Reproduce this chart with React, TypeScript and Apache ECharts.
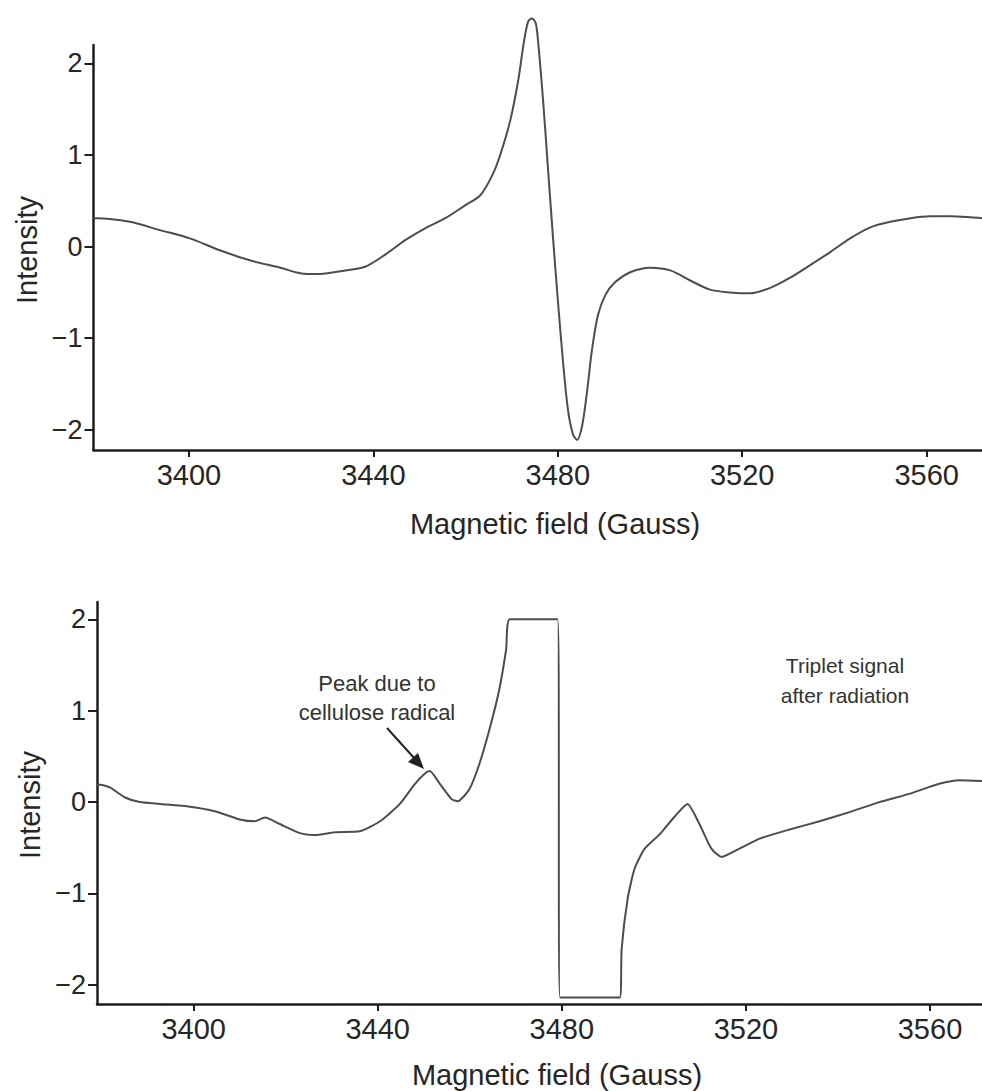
import React, { useEffect, useRef } from "react";
import * as echarts from "echarts";

// Top spectrum (before radiation): [field (G), intensity]
const topField = [3379.3, 3380, 3387.2, 3393.7, 3400.2, 3406.7, 3413.2, 3419.8, 3424.1, 3428.4, 3433.9, 3438.2, 3442.5, 3446.9, 3451.2, 3455.6, 3459.9, 3463.2, 3465.8, 3467.5, 3469.7, 3471.4, 3472.7, 3473.6, 3474.4, 3475.2, 3475.7, 3476.8, 3477.9, 3479, 3480, 3481.1, 3482.2, 3483.3, 3484.2, 3485.3, 3486.4, 3487.4, 3488.7, 3490.3, 3492.4, 3495.7, 3500, 3504.4, 3508.7, 3513, 3517.4, 3521.7, 3526.1, 3530.4, 3534.8, 3539.1, 3543.4, 3547.8, 3552.1, 3556.5, 3560.8, 3565.1, 3569.5, 3572];
const topIntensity = [0.31, 0.31, 0.27, 0.18, 0.09, -0.04, -0.15, -0.23, -0.29, -0.3, -0.26, -0.22, -0.09, 0.07, 0.2, 0.31, 0.45, 0.56, 0.78, 1.0, 1.38, 1.81, 2.25, 2.46, 2.49, 2.44, 2.25, 1.6, 0.83, 0.07, -0.58, -1.24, -1.78, -2.05, -2.11, -1.95, -1.56, -1.13, -0.75, -0.53, -0.39, -0.28, -0.23, -0.26, -0.37, -0.47, -0.5, -0.51, -0.45, -0.34, -0.2, -0.06, 0.09, 0.21, 0.27, 0.31, 0.33, 0.33, 0.32, 0.31];

// Bottom spectrum (after radiation)
const botField = [3379, 3379.7, 3381.8, 3385.1, 3388.3, 3392.7, 3399.2, 3404.6, 3410, 3413.3, 3415.5, 3418.7, 3423.1, 3426.3, 3430.7, 3436.1, 3440.5, 3444.8, 3448.1, 3450.2, 3451.3, 3453.5, 3456.1, 3457.4, 3459.9, 3462.1, 3464.3, 3466.4, 3467.9, 3468.7, 3479.1, 3479.6, 3492.6, 3493, 3494.3, 3495.8, 3498, 3501.3, 3504.5, 3507.3, 3509.9, 3512.5, 3514.7, 3518.6, 3523, 3529.5, 3536, 3542.5, 3549, 3555.5, 3562, 3566.4, 3571.3];
const botIntensity = [0.19, 0.19, 0.16, 0.05, 0, -0.02, -0.05, -0.1, -0.19, -0.21, -0.17, -0.24, -0.34, -0.36, -0.33, -0.32, -0.21, -0.02, 0.2, 0.31, 0.34, 0.2, 0.03, 0.01, 0.14, 0.42, 0.8, 1.23, 1.67, 2.0, 2.0, -2.14, -2.14, -1.61, -1.06, -0.73, -0.51, -0.35, -0.16, -0.02, -0.24, -0.51, -0.6, -0.51, -0.4, -0.3, -0.21, -0.11, 0, 0.09, 0.2, 0.24, 0.23];

const xTicks = [3400, 3440, 3480, 3520, 3560];
const yTicks = [-2, -1, 0, 1, 2];

const FONT = "'Liberation Sans', Arial, sans-serif";
const AXIS_COLOR = "#1e1e1e";
const LINE_COLOR = "#4d4d4d";
const TEXT_COLOR = "#262626";

function fmtY(v: number) {
  return v < 0 ? "\u2212" + Math.abs(v) : String(v);
}

export default function App() {
  const ref = useRef<HTMLDivElement>(null);
  useEffect(() => {
    if (!ref.current) return;
    const chart = echarts.init(ref.current, undefined, { renderer: "svg" });
    const xAxisBase = (min: number, max: number, gridIndex: number) => ({
      type: "value",
      gridIndex,
      min,
      max,
      axisLine: { show: true, onZero: false, lineStyle: { color: AXIS_COLOR, width: 2.5 } },
      axisTick: { show: true, length: 7, customValues: xTicks, lineStyle: { color: AXIS_COLOR, width: 2 } },
      axisLabel: { customValues: xTicks, color: TEXT_COLOR, fontSize: 29, fontFamily: FONT, margin: 10, formatter: (v: number) => String(v) },
      splitLine: { show: false },
    });
    const yAxisBase = (min: number, max: number, gridIndex: number) => ({
      type: "value",
      gridIndex,
      min,
      max,
      axisLine: { show: true, onZero: false, lineStyle: { color: AXIS_COLOR, width: 2.5 } },
      axisTick: { show: true, length: 9, customValues: yTicks, lineStyle: { color: AXIS_COLOR, width: 2 } },
      axisLabel: { customValues: yTicks, color: TEXT_COLOR, fontSize: 27, fontFamily: FONT, margin: 11, formatter: fmtY },
      splitLine: { show: false },
    });
    chart.setOption({
      animation: false,
      backgroundColor: "#ffffff",
      grid: [
        { left: 93.5, top: 45, right: 0, height: 405 },
        { left: 97, top: 602, right: 0, height: 402 },
      ],
      xAxis: [xAxisBase(3379.3, 3572, 0), xAxisBase(3379, 3571.3, 1)],
      yAxis: [yAxisBase(-2.22, 2.2, 0), yAxisBase(-2.21, 2.19, 1)],
      series: [
        {
          type: "line",
          xAxisIndex: 0,
          yAxisIndex: 0,
          data: topField.map((f, i) => [f, topIntensity[i]]),
          showSymbol: false,
          smooth: 0.3,
          clip: false,
          lineStyle: { color: LINE_COLOR, width: 2 },
        },
        {
          type: "line",
          xAxisIndex: 1,
          yAxisIndex: 1,
          data: botField.map((f, i) => [f, botIntensity[i]]),
          showSymbol: false,
          smooth: 0.2,
          clip: false,
          lineStyle: { color: LINE_COLOR, width: 2 },
        },
      ],
      graphic: [
        { type: "text", x: 555, y: 524, style: { text: "Magnetic field (Gauss)", fontSize: 29, fontFamily: FONT, fill: TEXT_COLOR, textAlign: "center", textVerticalAlign: "middle" } },
        { type: "text", x: 557, y: 1075, style: { text: "Magnetic field (Gauss)", fontSize: 29, fontFamily: FONT, fill: TEXT_COLOR, textAlign: "center", textVerticalAlign: "middle" } },
        { type: "text", x: 27, y: 250, rotation: Math.PI / 2, style: { text: "Intensity", fontSize: 29, fontFamily: FONT, fill: TEXT_COLOR, textAlign: "center", textVerticalAlign: "middle" } },
        { type: "text", x: 30, y: 805, rotation: Math.PI / 2, style: { text: "Intensity", fontSize: 29, fontFamily: FONT, fill: TEXT_COLOR, textAlign: "center", textVerticalAlign: "middle" } },
        { type: "text", x: 377, y: 698, style: { text: "Peak due to\ncellulose radical", fontSize: 22, lineHeight: 29, fontFamily: FONT, fill: "#333", textAlign: "center", textVerticalAlign: "middle" } },
        { type: "text", x: 845, y: 680, style: { text: "Triplet signal\nafter radiation", fontSize: 21, lineHeight: 30, fontFamily: FONT, fill: "#333", textAlign: "center", textVerticalAlign: "middle" } },
        { type: "line", shape: { x1: 387, y1: 728, x2: 415, y2: 759 }, style: { stroke: "#222", lineWidth: 2 } },
        { type: "polygon", shape: { points: [[424, 769], [408, 762], [418, 753]] }, style: { fill: "#222" } },
      ],
    });
    return () => chart.dispose();
  }, []);
  return <div ref={ref} style={{ position: "absolute", left: 0, top: 0, width: 982, height: 1091 }} />;
}
